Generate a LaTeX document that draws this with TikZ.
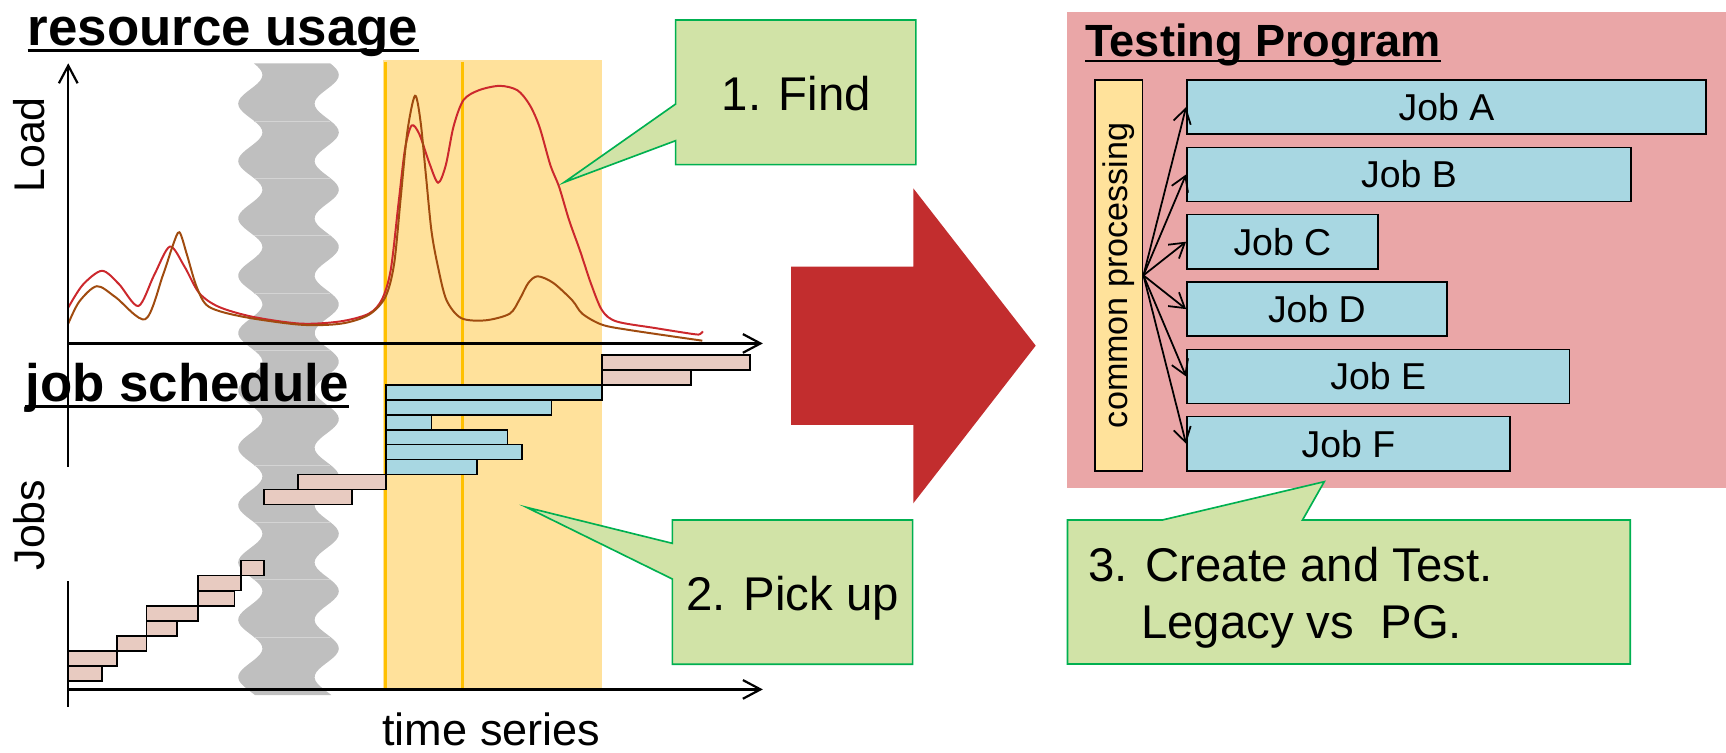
\documentclass[tikz,border=0pt]{standalone}
\usepackage{fontspec}
\setmainfont{Liberation Sans}
\usetikzlibrary{arrows.meta}

\definecolor{panelpink}{RGB}{234,166,167}
\definecolor{hlorange}{RGB}{255,225,155}
\definecolor{hlline}{RGB}{255,192,0}
\definecolor{bandgray}{RGB}{191,191,191}
\definecolor{bandseam}{RGB}{212,212,212}
\definecolor{loadred}{RGB}{204,40,45}
\definecolor{loadbrown}{RGB}{160,75,15}
\definecolor{barpink}{RGB}{232,203,193}
\definecolor{barblue}{RGB}{168,215,226}
\definecolor{bigred}{RGB}{194,45,46}
\definecolor{notefill}{RGB}{209,227,167}
\definecolor{noteline}{RGB}{0,176,80}
\definecolor{commonfill}{RGB}{255,226,155}

\begin{document}
\begin{tikzpicture}[x=1pt,y=-1pt,
  headtext/.style={font=\fontsize{48}{56}\selectfont\bfseries, inner sep=0pt, anchor=base west},
  axislabel/.style={font=\fontsize{39}{46}\selectfont, inner sep=0pt},
  axisline/.style={line width=2, -{Straight Barb[length=16pt,width=17pt,line width=2pt]}},
  pinkbar/.style={fill=barpink, draw=black, line width=1.6},
  bluebar/.style={fill=barblue, draw=black, line width=1.6},
  note/.style={fill=notefill, draw=noteline, line width=1.5, line join=miter},
  notetext/.style={font=\fontsize{43}{51.5}\selectfont, inner sep=0pt},
  jobbox/.style={fill=barblue, draw=black, line width=1.5, minimum height=49.2pt,
                 inner sep=0pt, anchor=west, font=\fontsize{34}{40}\selectfont},
  jobarrow/.style={line width=1.6, -{Straight Barb[length=13pt,width=16pt,line width=1.6pt]}},
  curve/.style={line width=1.8, smooth, tension=0.5}
]
\useasboundingbox (0,0) rectangle (1568,684);

% ---------- right-hand panel ----------
\fill[panelpink] (969,11.2) rectangle (1568,443.6);

% ---------- highlighted period and gap band ----------
\fill[hlorange] (348,54.5) rectangle (547,626);
\fill[bandgray]
  plot[domain=57.5:631.5, samples=220] ({227.4+11*sin(6.91*(\x-55.1))},{\x})
  -- plot[domain=631.5:57.5, samples=220] ({296.8+11*sin(6.91*(\x-55.1))},{\x})
  -- cycle;
\foreach \k in {0,...,9}
  \draw[bandseam, line width=0.8] (231,{109.9+52.1*\k}) -- (300,{109.9+52.1*\k});
\draw[hlline, line width=3] (350.5,56) -- (350.5,626);
\draw[hlline, line width=3] (420,56) -- (420,626);

% ---------- load curves ----------
\draw[loadred, curve] plot coordinates {
  (61.7,280) (75,259) (92.6,246) (108,258) (125.7,278) (140,250) (154.3,224)
  (167.5,242) (180.8,266) (198.4,278.6) (229,287.7) (273,294) (309,292)
  (335,285) (347,272) (355,245) (362,185) (368,135) (374,114) (381,122)
  (390,148) (398,166) (405,150) (412,115) (421,91) (435,82) (454,78)
  (470,82) (481,95) (490,115) (500,150) (508,170) (517,200) (527,228)
  (537,258) (547,282) (560,292) (595,298) (630,303.5) (636,303.5) (638.5,301)};
\draw[loadbrown, curve] plot coordinates {
  (62,294) (72,274) (88,260) (105,270) (132,290) (148,250) (157,223)
  (163,211) (170,232) (178.6,260.5) (189.6,278.6) (220.5,287.7) (273,295)
  (310,294) (335,286) (350,270) (358,240) (364,180) (370,120) (377,87)
  (382,110) (387,160) (392,210) (397.8,242) (405.6,272.6) (419,289)
  (441,291) (463,285) (472,272) (480,257) (488.5,251) (502.6,257)
  (520,273) (529,285) (547,295) (573,300) (638,309.5)};

% ---------- axes ----------
\draw[axisline] (62,424) -- (62,57.5);
\draw[axisline] (62,312) -- (693,312);
\draw[line width=2] (62,642) -- (62,527.6);
\draw[axisline] (62,626.3) -- (693,626.3);

% ---------- job schedule bars ----------
\foreach \xa/\xb/\yt in {547/681/322.3, 547/628/335.9, 271/350.5/431.1, 240/320/444.7,
    219/240/509.2, 180/219/522.9, 180/213/536.6, 133/180/550.3, 133/161/564.0,
    106/133/577.7, 62/106/591.4, 62/93/605.1}
  \draw[pinkbar] (\xa,\yt) rectangle (\xb,{\yt+13.6});
\foreach \xb/\yt in {547/349.5, 501/363.1, 392/376.7, 461/390.3, 474.5/403.9, 433/417.5}
  \draw[bluebar] (350.5,\yt) rectangle (\xb,{\yt+13.6});

% ---------- titles and axis labels ----------
\node[headtext] (restitle) at (25,40.9) {resource usage};
\draw[line width=2.2] ([yshift=-5pt]restitle.base west) -- ([yshift=-5pt]restitle.base east);
\node[headtext] (jobtitle) at (23,364.3) {job schedule};
\draw[line width=2.2] ([yshift=-5pt]jobtitle.base west) -- ([yshift=-5pt]jobtitle.base east);
\node[axislabel, rotate=90] (loadlbl) at (26.5,131.7) {Load};
\node[axislabel, rotate=90] (jobslbl) at (26.5,477) {Jobs};
\node[axislabel, font=\fontsize{41}{48}\selectfont, anchor=base] (timelbl) at (446.5,677) {time series};

% ---------- big arrow ----------
\fill[bigred] (718.6,242.3) -- (829.7,242.3) -- (829.7,171.1) -- (940.9,314)
  -- (829.7,457.2) -- (829.7,386) -- (718.6,386) -- cycle;

% ---------- callouts ----------
\draw[note] (613.8,18.2) -- (832,18.2) -- (832,149.6) -- (613.8,149.6)
  -- (613.8,127.8) -- (512.6,165.6) -- (613.8,94.5) -- cycle;
\node[notetext, anchor=base] (find) at (723.5,100) {1. Find};

\draw[note] (610.8,472.4) -- (829.1,472.4) -- (829.1,603.5) -- (610.8,603.5)
  -- (610.8,526) -- (478.4,460.9) -- (610.8,493.6) -- cycle;
\node[notetext, anchor=base] (pickup) at (720,554.2) {2. Pick up};

\draw[note] (969.8,472.4) -- (1056,472.4) -- (1203,437.6) -- (1183.3,472.4)
  -- (1481,472.4) -- (1481,603.2) -- (969.8,603.2) -- cycle;
\node[notetext, anchor=base west] (create) at (988.6,528.4) {3. Create and Test.};
\node[notetext, anchor=base west] (legacy) at (1036.5,579.9) {Legacy vs\ \ PG.};

% ---------- testing program ----------
\node[headtext, font=\fontsize{41}{48}\selectfont\bfseries] (testtitle) at (986,51.5) {Testing Program};
\draw[line width=2] ([yshift=-4pt]testtitle.base west) -- ([yshift=-4pt]testtitle.base east);

\node[fill=commonfill, draw=black, line width=1.5, inner sep=0pt,
      minimum width=43pt, minimum height=354.9pt,
      font=\fontsize{31}{36}\selectfont] (common) at (1016.5,250.15)
      {\rotatebox{90}{common processing}};

\node[jobbox, minimum width=471.5pt] (jobA) at (1077.5,97.3)  {Job A};
\node[jobbox, minimum width=403.5pt] (jobB) at (1077.5,158.5) {Job B};
\node[jobbox, minimum width=173.5pt] (jobC) at (1077.5,219.6) {Job C};
\node[jobbox, minimum width=236.2pt] (jobD) at (1077.5,280.8) {Job D};
\node[jobbox, minimum width=347.5pt] (jobE) at (1077.5,342.0) {Job E};
\node[jobbox, minimum width=293.5pt] (jobF) at (1077.5,403.1) {Job F};

\foreach \j in {A,B,C,D,E,F}
  \draw[jobarrow] (common.east) -- (job\j.west);
\end{tikzpicture}
\end{document}
